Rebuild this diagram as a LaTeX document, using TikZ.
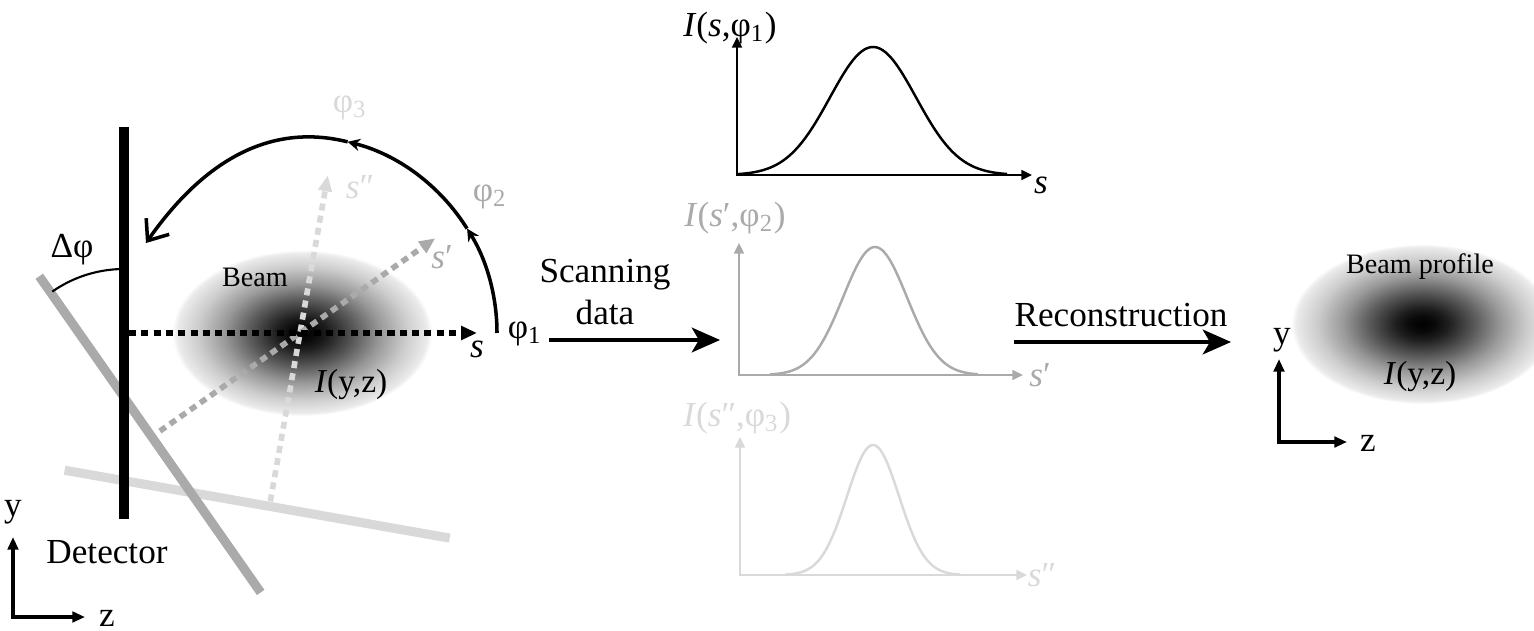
\documentclass[tikz,border=0pt]{standalone}
\usepackage{fontspec}
\setmainfont{Liberation Serif}
\usepackage{tikz}
\usetikzlibrary{arrows.meta,calc}
\definecolor{scanmid}{RGB}{170,170,170}
\definecolor{scanlight}{RGB}{217,217,217}
\pgfdeclareradialshading{beamglow}{\pgfpoint{0bp}{0bp}}{color(0bp)=(black); color(2.5bp)=(black!96); color(5bp)=(black!88); color(10bp)=(black!65); color(15bp)=(black!40); color(20bp)=(black!20); color(24bp)=(black!8); color(25bp)=(white); color(50bp)=(white)}

\begin{document}
\begin{tikzpicture}[x=0.01cm,y=0.01cm,font=\fontsize{10}{12}\selectfont,
  detbar/.style={line width=2.6pt},
  scanline/.style={line width=1.6pt,dash pattern=on 2pt off 1.5pt,-{Triangle[length=4.5pt,width=3.8pt]}},
  rotarc/.style={line width=1pt},
  midtip/.style={-{Stealth[length=3.5pt,width=3.5pt]}},
  axis/.style={line width=0.9pt,{Triangle[length=3.6pt,width=3pt]}-{Triangle[length=3.6pt,width=3pt]}},
  plotaxis/.style={line width=0.6pt,{Triangle[length=3pt,width=2.8pt]}-{Triangle[length=3pt,width=2.8pt]}},
  profile/.style={line width=0.7pt},
  flow/.style={line width=1.2pt,-{Stealth[length=8pt,width=7pt,inset=2pt]}},
  small/.style={font=\fontsize{8}{10}\selectfont},
  intensity/.style={font=\fontsize{9.5}{11}\selectfont}]
\useasboundingbox (0,0) rectangle (1534,630);

% measurement geometry
\coordinate (O) at (300,297);
\shade[shading=beamglow] (302,297) ellipse [x radius=130, y radius=83];
\foreach \a/\d/\lo/\hi/\col in {80/176/-183/208/scanlight,35/181/-190/196/scanmid,0/176/-186/206/black}
  \draw[detbar,\col] ($(O)+(\a+180:\d)+(\a+90:\lo)$) -- ($(O)+(\a+180:\d)+(\a+90:\hi)$);
\foreach \a/\len/\col in {80/160/scanlight,35/165/scanmid,0/177/black}
  \draw[scanline,\col] ($(O)+(\a+180:171)$) -- ($(O)+(\a:\len)$);

\coordinate (cross) at (124,236);
\draw[line width=0.6pt] ($(cross)+(90:125)$) arc[start angle=90,end angle=125,radius=125];
\node (dphi) at (72,380) {Δφ};

% rotation of the detector
\coordinate (phi1pt) at ($(O)+(0:197)$);
\coordinate (phiend) at (146,387);
\draw[rotarc,midtip] (phi1pt) arc[start angle=0,end angle=32,radius=197] coordinate (phi2pt);
\draw[rotarc,midtip] (phi2pt) arc[start angle=32,end angle=76,radius=197] coordinate (phi3pt);
\draw[rotarc,-{Straight Barb[length=5pt,width=8pt]}] (phi3pt) to[out=166,in=55] (phiend);

\node (phione) at (525,296) {φ\textsubscript{1}};
\node[scanmid] (phitwo) at (490,433) {φ\textsubscript{2}};
\node[scanlight] (phithree) at (350,522) {φ\textsubscript{3}};
\node (slbl) at (477,281) {\textit{s}};
\node[scanmid] (sprime) at (442,373) {\textit{s}′};
\node[scanlight] (sdprime) at (360,443) {\textit{s}″};
\node[small] (beamlbl) at (255,353) {Beam};
\node[intensity] (beamI) at (351,245) {\textit{I}(y,z)};

\coordinate (lo) at (13,13);
\coordinate (ly) at (13,93);
\coordinate (lz) at (85,13);
\draw[axis] (ly) -- (lo) -- (lz);
\node (lylbl) at (13,118) {y};
\node (lzlbl) at (107,12) {z};
\node (detlbl) at (107,78) {Detector};

% scanning data
\node[align=center] (scan) at (605,338) {Scanning\\data};
\coordinate (scanA) at (549,290);
\coordinate (scanB) at (720,290);
\draw[flow] (scanA) -- (scanB);

\coordinate (ga) at (737,455);
\coordinate (gaY) at (737,593);
\coordinate (gaX) at (1032,455);
\draw[plotaxis] (gaY) -- (ga) -- (gaX);
\draw[profile] plot[domain=737:1007,samples=90,smooth] (\x,{455+128*exp(-0.5*((\x-873)/43)^2)});
\node (gaI) at (730,602) {\textit{I}(\textit{s},φ\textsubscript{1})};
\node (gaS) at (1041,445) {\textit{s}};

\coordinate (gb) at (739,255);
\coordinate (gbY) at (739,387);
\coordinate (gbX) at (1023,255);
\draw[plotaxis,scanmid] (gbY) -- (gb) -- (gbX);
\draw[profile,scanmid] plot[domain=770:978,samples=90,smooth] (\x,{255+128*exp(-0.5*((\x-875)/32)^2)});
\node[scanmid] (gbI) at (735,412) {\textit{I}(\textit{s}′,φ\textsubscript{2})};
\node[scanmid] (gbS) at (1040,255) {\textit{s}′};

\coordinate (gc) at (740,55);
\coordinate (gcY) at (740,193);
\coordinate (gcX) at (1027,55);
\draw[plotaxis,scanlight] (gcY) -- (gc) -- (gcX);
\draw[profile,scanlight] plot[domain=785:960,samples=90,smooth] (\x,{55+130*exp(-0.5*((\x-873)/26)^2)});
\node[scanlight] (gcI) at (737,212) {\textit{I}(\textit{s}″,φ\textsubscript{3})};
\node[scanlight] (gcS) at (1042,55) {\textit{s}″};

% reconstruction
\node (recon) at (1121,315) {Reconstruction};
\coordinate (reconA) at (1014,288);
\coordinate (reconB) at (1231,288);
\draw[flow] (reconA) -- (reconB);
\shade[shading=beamglow] (1422,306) ellipse [x radius=131, y radius=80];
\node[small] (proflbl) at (1420,363) {Beam profile};
\node[intensity] (profI) at (1420,253) {\textit{I}(y,z)};
\coordinate (ro) at (1279,188);
\coordinate (ry) at (1279,271);
\coordinate (rz) at (1347,188);
\draw[axis] (ry) -- (ro) -- (rz);
\node (rylbl) at (1282,290) {y};
\node (rzlbl) at (1368,187) {z};
\end{tikzpicture}
\end{document}
